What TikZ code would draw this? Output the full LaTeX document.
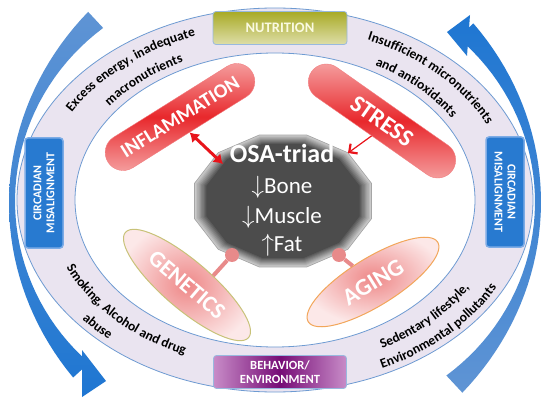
\documentclass[tikz,border=0pt]{standalone}
\usepackage{fontspec}
\setmainfont{Carlito}
\usepackage{tikz}
\usetikzlibrary{shapes.geometric,arrows.meta,decorations.text}

\definecolor{ringfill}{RGB}{234,228,240}
\definecolor{ringline}{RGB}{110,155,210}
\definecolor{arrowdark}{RGB}{30,118,210}
\definecolor{arrowlight}{RGB}{95,148,212}
\definecolor{olivedark}{RGB}{168,170,38}
\definecolor{olivelight}{RGB}{222,222,168}
\definecolor{olivetext}{RGB}{250,250,225}
\definecolor{purpledark}{RGB}{118,12,118}
\definecolor{purplelight}{RGB}{200,140,200}
\definecolor{bluebox}{RGB}{40,122,208}
\definecolor{blueboxlight}{RGB}{125,172,230}
\definecolor{pillred}{RGB}{232,40,44}
\definecolor{pillpink}{RGB}{246,170,170}
\definecolor{blobpink}{RGB}{238,136,136}
\definecolor{blobpale}{RGB}{252,232,232}
\definecolor{genline}{RGB}{200,194,120}
\definecolor{ageline}{RGB}{242,166,90}
\definecolor{knobpink}{RGB}{232,138,138}
\definecolor{linkred}{RGB}{232,20,27}

\newcommand{\ringfont}{\bfseries\fontsize{13.5}{15}\selectfont}

\begin{document}
\begin{tikzpicture}[x=1pt, y=1pt,
  tag/.style={draw=ringline!70!white, line width=0.8pt, rounded corners=3pt, inner sep=0pt, text=white, align=center},
  sidetag/.style={tag, draw=blueboxlight, line width=1.5pt, fill=bluebox, minimum width=110pt, minimum height=38pt,
    font=\bfseries\fontsize{12}{13}\selectfont},
  pill/.style={draw=pillred!60!white, rounded corners=18pt, minimum height=36pt, inner sep=0pt, text=white,
    top color=pillpink, bottom color=pillpink, middle color=pillred},
  blob/.style={ellipse, line width=1pt, minimum height=48pt, inner sep=0pt, text=white, inner color=blobpink, outer color=blobpale},
  knob/.style={circle, fill=knobpink, minimum size=14pt, inner sep=0pt},
  stalk/.style={knobpink, line width=4pt},
  osatext/.style={text=white, font=\fontsize{23}{26}\selectfont},
  ringtext/.style={decorate, decoration={text along path, text align=center, text={|\ringfont|#1}}}
]

\useasboundingbox (0,0) rectangle (550,-404);
\fill[white] (0,0) rectangle (550,-404);

% Ring
\fill[ringfill, even odd rule] (275,-200) ellipse [x radius=258pt, y radius=192pt]
  (275,-200) ellipse [x radius=200pt, y radius=147pt];
\draw[ringline, line width=0.8pt] (275,-200) ellipse [x radius=258pt, y radius=192pt];
\draw[ringline, line width=0.8pt] (275,-200) ellipse [x radius=200pt, y radius=147pt];

% Blue arrows round the ring
\shade[top color=arrowlight, bottom color=arrowdark]
  plot[domain=133:222.5, samples=40, variable=\t]
    ({275+(266+8*((\t-178)/45)^2)*cos(\t)}, {-202+(252+8*((\t-178)/45)^2)*sin(\t)})
  -- plot[domain=222.5:133, samples=40, variable=\t]
    ({275+(260-8*((\t-178)/45)^2)*cos(\t)}, {-202+(246-8*((\t-178)/45)^2)*sin(\t)})
  -- cycle
  (82,-350) -- (82,-397) -- (106,-381) -- cycle;
\shade[top color=arrowdark, bottom color=arrowlight]
  plot[domain=-47:43.5, samples=40, variable=\t]
    ({275+(266+8*(\t/45)^2)*cos(\t)}, {-202+(252+8*(\t/45)^2)*sin(\t)})
  -- plot[domain=43.5:-47, samples=40, variable=\t]
    ({275+(260-8*(\t/45)^2)*cos(\t)}, {-202+(246-8*(\t/45)^2)*sin(\t)})
  -- cycle
  (470,-15) -- (447,-32) -- (467,-56) -- cycle;

% Boxes on the ring
\node[tag, minimum width=134pt, minimum height=33pt, top color=olivedark, bottom color=olivelight,
  text=olivetext, font=\bfseries\fontsize{14.5}{16}\selectfont] (nutrition) at (280,-28) {NUTRITION};
\node[tag, minimum width=133pt, minimum height=33pt, left color=purplelight, right color=purplelight,
  middle color=purpledark, font=\bfseries\fontsize{12.5}{14}\selectfont] (behavior) at (280,-372) {BEHAVIOR/\\ENVIRONMENT};
\node[sidetag, rotate=90] (circleft) at (44,-193) {CIRCADIAN\\MISALIGNMENT};
\node[sidetag, rotate=-90] (circright) at (505,-192) {CIRCADIAN\\MISALIGNMENT};

% Texts along the ring
\path[ringtext={Excess energy, inadequate}] (275,-200) ++(178:234.8pt and 174pt)
  arc[start angle=178, end angle=88, x radius=234.8pt, y radius=174pt];
\path[ringtext={macronutrients}] (275,-200) ++(178:208.7pt and 153.75pt)
  arc[start angle=178, end angle=88, x radius=208.7pt, y radius=153.75pt];
\path[ringtext={Insufficient micronutrients}] (275,-200) ++(88:234.8pt and 174pt)
  arc[start angle=88, end angle=-2, x radius=234.8pt, y radius=174pt];
\path[ringtext={and antioxidants}] (275,-200) ++(88:208.7pt and 153.75pt)
  arc[start angle=88, end angle=-2, x radius=208.7pt, y radius=153.75pt];
\path[ringtext={Smoking, Alcohol and drug}] (275,-200) ++(177:227.8pt and 168.6pt)
  arc[start angle=177, end angle=267, x radius=227.8pt, y radius=168.6pt];
\path[ringtext={abuse}] (275,-200) ++(175:251pt and 186.6pt)
  arc[start angle=175, end angle=265, x radius=251pt, y radius=186.6pt];
\path[ringtext={Sedentary lifestyle,}] (275,-200) ++(-88:227.8pt and 168.6pt)
  arc[start angle=-88, end angle=2, x radius=227.8pt, y radius=168.6pt];
\path[ringtext={Environmental pollutants}] (275,-200) ++(-88:251pt and 186.6pt)
  arc[start angle=-88, end angle=2, x radius=251pt, y radius=186.6pt];

% OSA-triad polygon with soft edge
\foreach \k in {0,...,9} {
  \pgfmathsetmacro{\s}{1-0.015*\k}
  \pgfmathtruncatemacro{\g}{20+5.6*\k}
  \fill[black!\g] plot[samples at={15,45,...,345}, variable=\a]
    ({283+\s*91.6*cos(\a)}, {-201+\s*68.3*sin(\a)}) -- cycle;
}
\draw[gray!70, line width=0.7pt] plot[samples at={15,45,...,345}, variable=\a]
  ({283+91.6*cos(\a)}, {-201+68.3*sin(\a)}) -- cycle;
\coordinate (osaNW) at (223,-164);
\coordinate (osaNE) at (348,-153);

\node[text=white, font=\bfseries\fontsize{26}{28}\selectfont] (osatitle) at (282,-153) {OSA-triad};
\node[osatext] (bone) at (282,-187) {$\downarrow$Bone};
\node[osatext] (muscle) at (282,-217) {$\downarrow$Muscle};
\node[osatext] (fat) at (282,-245) {$\uparrow$Fat};

% Factors
\node[pill, minimum width=170pt, rotate=32, font=\bfseries\fontsize{20}{22}\selectfont] (infl) at (180,-117) {INFLAMMATION};
\node[pill, minimum width=172pt, rotate=-35, font=\bfseries\fontsize{24}{26}\selectfont] (stress) at (382,-121) {STRESS};
\node[blob, draw=genline, minimum width=162pt, rotate=-40.5, font=\bfseries\fontsize{23}{25}\selectfont] (genetics) at (187,-285) {GENETICS};
\node[blob, draw=ageline, minimum width=152pt, rotate=31.6, font=\bfseries\fontsize{24}{26}\selectfont] (aging) at (373,-282) {AGING};

% Links to the triad
\node[knob] (gknob) at (232,-255) {};
\node[knob] (aknob) at (339,-255) {};
\draw[stalk] (genetics.60) -- (gknob);
\draw[stalk] (aging.110) -- (aknob);
\draw[linkred, line width=3pt, {Latex[length=9pt,width=12pt]}-{Latex[length=9pt,width=12pt]}] (infl.south) -- (osaNW);
\draw[linkred, line width=1.2pt, -{Straight Barb[length=6pt,width=12pt,line width=2.2pt]}] (stress.south) -- (osaNE);

\end{tikzpicture}
\end{document}
